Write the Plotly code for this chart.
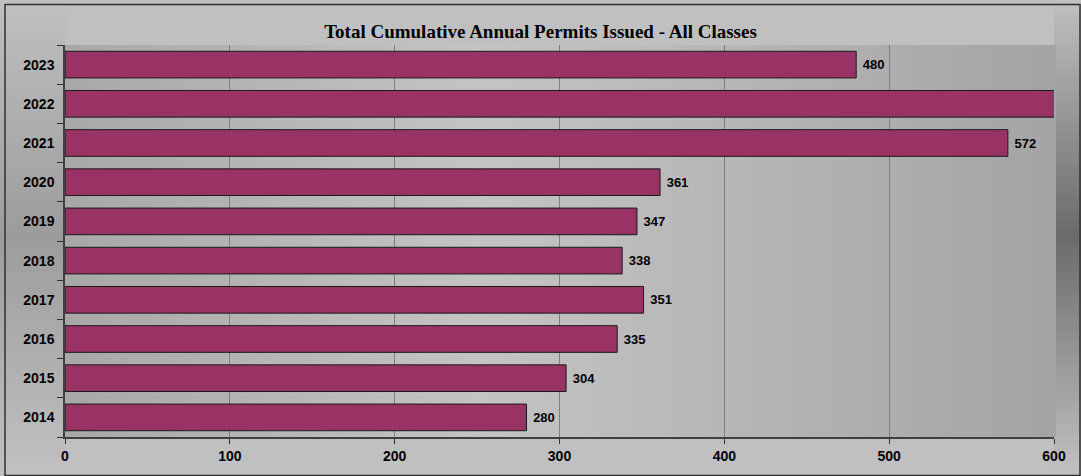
import plotly.graph_objects as go

years = ["2014", "2015", "2016", "2017", "2018", "2019", "2020", "2021", "2022", "2023"]
permits = [280, 304, 335, 351, 338, 347, 361, 572, 690, 480]
x_ticks = [0, 100, 200, 300, 400, 500, 600]
x_max = 600

W, H = 1081, 476
L, R, T, B = 65, 27, 45, 34
pw, ph = W - L - R, H - T - B


def px_x(p):
    return (p - L) / pw


def px_y(p):
    return (H - B - p) / ph


def gray(v):
    v = int(round(v))
    return f"rgb({v},{v},{v})"


shapes = []

# outer background side strips (vertical gradient, darker in the middle)
n = 90
for i in range(n):
    y0 = i * H / n
    y1 = (i + 1) * H / n
    t = abs(((y0 + y1) / 2) / H - 0.5) * 2  # 0 middle, 1 edges
    left_c = 156 + (192 - 156) * t
    right_c = 106 + (192 - 106) * t
    shapes.append(dict(type="rect", xref="paper", yref="paper", layer="below",
                       x0=px_x(0), x1=px_x(L), y0=px_y(y1 + 0.5), y1=px_y(y0),
                       fillcolor=gray(left_c), line=dict(width=0)))
    shapes.append(dict(type="rect", xref="paper", yref="paper", layer="below",
                       x0=px_x(L + pw), x1=px_x(W), y0=px_y(y1 + 0.5), y1=px_y(y0),
                       fillcolor=gray(right_c), line=dict(width=0)))
# plot area horizontal gradient
m = 80
for i in range(m):
    f = (i + 0.5) / m
    if f < 0.42:
        c = 168 + (196 - 168) * (f / 0.42)
    else:
        c = 196 - (196 - 164) * ((f - 0.42) / 0.58)
    shapes.append(dict(type="rect", xref="paper", yref="paper", layer="below",
                       x0=i / m, x1=(i + 1) / m + 0.002, y0=0, y1=1,
                       fillcolor=gray(c), line=dict(width=0)))
# outer border
shapes.append(dict(type="rect", xref="paper", yref="paper", layer="above",
                   x0=px_x(5), x1=px_x(1080), y0=px_y(H + 5), y1=px_y(4),
                   fillcolor="rgba(0,0,0,0)", line=dict(color="#303030", width=1.5)))

labels = [" " + str(v) if v <= x_max else "" for v in permits]

fig = go.Figure(go.Bar(
    x=permits, y=years, orientation="h",
    marker=dict(color="#993366", line=dict(color="#1a1a1a", width=1)),
    text=labels, textposition="outside", cliponaxis=True,
    textfont=dict(family="Liberation Sans", size=13, color="#000000", weight="bold"),
    width=0.68,
))

fig.update_layout(
    width=W, height=H,
    margin=dict(l=L, r=R, t=T, b=B),
    paper_bgcolor="#c0c0c0",
    plot_bgcolor="rgba(0,0,0,0)",
    showlegend=False,
    shapes=shapes,
    title=dict(text="<b>Total Cumulative Annual Permits Issued - All Classes</b>",
               x=0.5, xref="container", xanchor="center",
               y=1 - 31 / H, yref="container", yanchor="middle",
               font=dict(family="Liberation Serif", size=19, color="#000000")),
    xaxis=dict(range=[0, x_max], tickvals=x_ticks, ticktext=[str(v) for v in x_ticks],
               showgrid=True, gridcolor="#7f7f7f", gridwidth=1, zeroline=False,
               showline=True, linecolor="#404040", linewidth=2,
               ticks="outside", ticklen=5, tickcolor="#303030",
               tickfont=dict(family="Liberation Sans", size=14, color="#000000", weight="bold"),
               fixedrange=True),
    yaxis=dict(type="category", categoryorder="array", categoryarray=years,
               showgrid=False, zeroline=False,
               showline=True, linecolor="#404040", linewidth=1.5,
               ticks="outside", ticklen=6, tickcolor="#303030", tickson="boundaries",
               tickfont=dict(family="Liberation Sans", size=14, color="#000000", weight="bold"),
               ticklabelstandoff=6, fixedrange=True),
    font=dict(family="Liberation Sans"),
)

fig.write_html("out.html", config={"displayModeBar": False},
               post_script="document.body.style.margin='0';document.body.style.overflow='hidden';")
